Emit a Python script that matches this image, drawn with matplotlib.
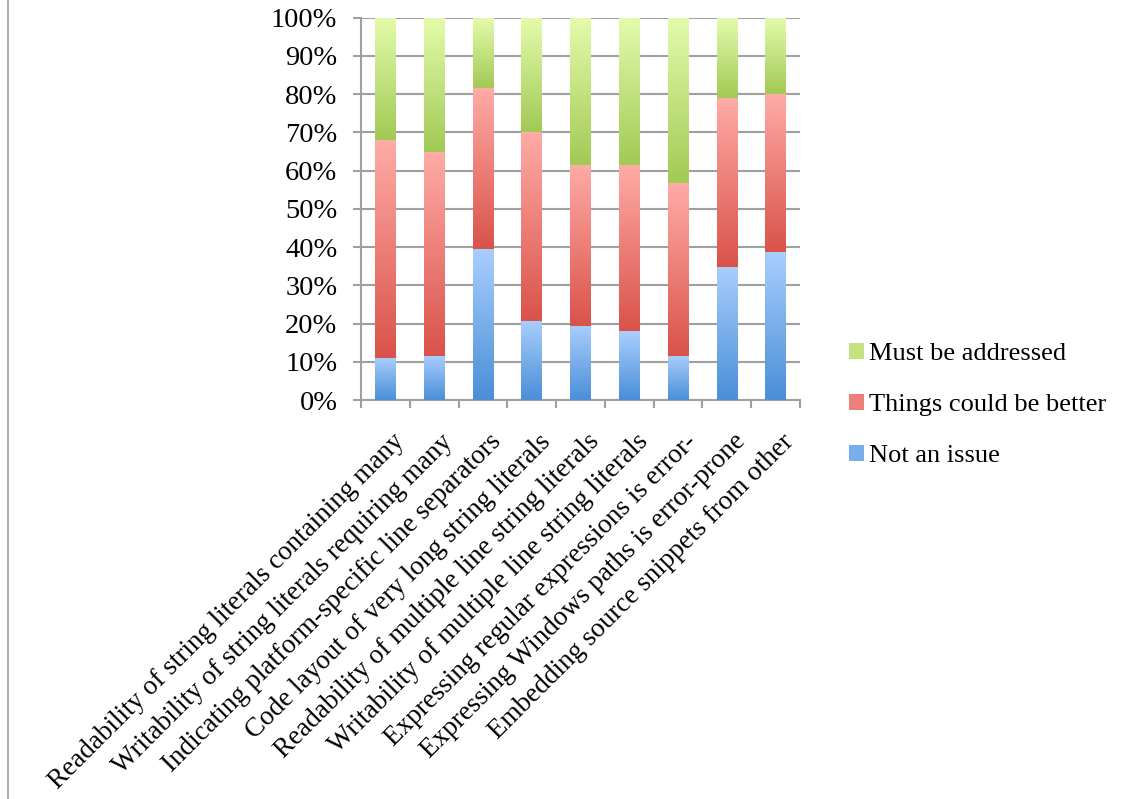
import numpy as np
import matplotlib
matplotlib.use("Agg")
import matplotlib.pyplot as plt
import matplotlib.transforms as mtransforms
from matplotlib.patches import Patch
from matplotlib.lines import Line2D
from matplotlib.colors import LinearSegmentedColormap

plt.rcParams['font.family'] = ['Liberation Serif', 'DejaVu Serif']

# survey answers, share of respondents (%)
categories = [
    "Readability of string literals containing many",
    "Writability of string literals requiring many",
    "Indicating platform-specific line separators",
    "Code layout of very long string literals",
    "Readability of multiple line string literals",
    "Writability of multiple line string literals",
    "Expressing regular expressions is error-",
    "Expressing Windows paths is error-prone",
    "Embedding source snippets from other",
]
not_issue = [11.1, 11.6, 39.6, 20.7, 19.4, 18.0, 11.6, 34.9, 38.8]
could_be_better = [56.9, 53.4, 42.1, 49.5, 42.2, 43.6, 45.2, 44.2, 41.3]
must_address = [32.0, 35.0, 18.3, 29.8, 38.4, 38.4, 43.2, 20.9, 19.9]
series_names = ["Not an issue", "Things could be better", "Must be addressed"]

# gradient colours, (bottom, top)
grads = {
    "Not an issue": ("#4a8fd8", "#a9cefd"),
    "Things could be better": ("#d9534a", "#ffaba6"),
    "Must be addressed": ("#a2ca55", "#e3fbab"),
}
mids = {"Not an issue": "#7aaeea", "Things could be better": "#ec7f78",
        "Must be addressed": "#c4e27f"}

fig = plt.figure(figsize=(11.3, 7.99), dpi=100)
ax = fig.add_axes([361/1130, 1 - 400/799, (800 - 361)/1130, (400 - 17.7)/799])

x = np.arange(len(categories))
bottom = np.zeros(len(categories))
grid_c = "#a0a0a0"
for name, vals in zip(series_names, [not_issue, could_be_better, must_address]):
    vals = np.array(vals)
    bars = ax.bar(x, vals, 0.42, bottom=bottom, color=mids[name], zorder=3, linewidth=0)
    cmap = LinearSegmentedColormap.from_list(name, list(grads[name]))
    for b in bars:
        x0, y0 = b.get_x(), b.get_y()
        w, h = b.get_width(), b.get_height()
        im = ax.imshow(np.linspace(0, 1, 100).reshape(-1, 1), cmap=cmap, origin="lower",
                       extent=[x0, x0 + w, y0, y0 + h], aspect="auto", zorder=4)
        im.set_clip_path(b)
    bottom += vals

ax.set_xlim(-0.5, len(categories) - 0.5)
ax.set_ylim(0, 100)
ax.set_yticks(np.arange(0, 101, 10))
ax.set_yticklabels([f"{v}%" for v in range(0, 101, 10)])
ax.yaxis.grid(True, color=grid_c, lw=1.5, zorder=0)
ax.set_xticks(x)
ax.set_xticklabels(categories, rotation=45, rotation_mode="anchor", ha="right", va="top",
                   fontsize=19.5)
ax.set_xticks(np.arange(-0.5, len(categories)), minor=True)
ax.tick_params(axis="x", which="major", length=0, pad=21)
ax.tick_params(axis="x", which="minor", length=6, width=1.5, color=grid_c)
ax.tick_params(axis="y", length=6, width=1.5, color=grid_c, labelsize=20.5, pad=11)
shift = mtransforms.ScaledTranslation(6/100, 0, fig.dpi_scale_trans)
for t in ax.get_xticklabels():
    t.set_transform(t.get_transform() + shift)
for s in ["top", "right"]:
    ax.spines[s].set_visible(False)
for s in ["left", "bottom"]:
    ax.spines[s].set_color(grid_c)
    ax.spines[s].set_linewidth(1.5)

handles = [Patch(facecolor=mids[n], edgecolor="none") for n in reversed(series_names)]
fig.legend(handles, list(reversed(series_names)), loc="center left",
           bbox_to_anchor=(849/1130, 1 - 405/799), frameon=False, fontsize=19,
           borderpad=0, borderaxespad=0,
           handlelength=0.55, handleheight=0.55, handletextpad=0.2, labelspacing=1.08)

fig.add_artist(Line2D([8/1130, 8/1130], [0, 1], color="#b0b0b0", lw=1.5))

fig.savefig("out.png", dpi=100)
